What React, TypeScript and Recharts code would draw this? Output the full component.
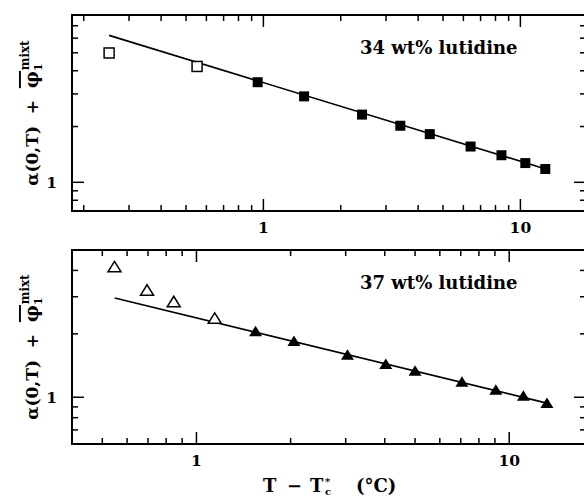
import { ComposedChart, Scatter, XAxis, YAxis, ReferenceArea, Customized } from "recharts";

// 34 wt% lutidine (upper panel)
const open34X = [0.251, 0.552];
const open34Y = [4.99, 4.22];
const fill34X = [0.95, 1.44, 2.42, 3.41, 4.44, 6.4, 8.44, 10.45, 12.5];
const fill34Y = [3.47, 2.91, 2.32, 2.02, 1.82, 1.56, 1.4, 1.27, 1.18];
const fit34X = [0.251, 12.8];
const fit34Y = [6.21, 1.17];

// 37 wt% lutidine (lower panel)
const open37X = [0.547, 0.695, 0.846, 1.144];
const open37Y = [4.16, 3.22, 2.84, 2.37];
const fill37X = [1.545, 2.05, 3.04, 4.03, 5.0, 7.06, 9.06, 11.1, 13.2];
const fill37Y = [2.06, 1.85, 1.59, 1.44, 1.335, 1.185, 1.086, 1.017, 0.94];
const fit37X = [0.548, 13.4];
const fit37Y = [2.96, 0.933];

// axes
const xTicks34 = [0.2, 0.3, 0.4, 0.5, 0.6, 0.7, 0.8, 0.9, 1, 2, 3, 4, 5, 6, 7, 8, 9, 10];
const xTicks37 = [0.5, 0.6, 0.7, 0.8, 0.9, 1, 2, 3, 4, 5, 6, 7, 8, 9, 10];
const yTicks34 = [0.8, 0.9, 1, 2, 3, 4, 5, 6, 7];
const yTicks37 = [0.7, 0.8, 0.9, 1, 2, 3, 4];
const xLabeled = [1, 10];
const yLabeled = [1];

const pts = (xs: number[], ys: number[]) => xs.map((x, i) => ({ x, y: ys[i] }));

const FONT = "'DejaVu Serif', serif";
const PLOT_W = 514;

const xTick = (plotH: number) => (props: any) => {
  const { x, y, payload } = props;
  const major = xLabeled.includes(payload.value);
  const len = major ? 12 : 6;
  return (
    <g>
      <line x1={x} x2={x} y1={y} y2={y - len} stroke="#000" strokeWidth={1.5} />
      <line x1={x} x2={x} y1={y - plotH} y2={y - plotH + len} stroke="#000" strokeWidth={1.5} />
      {major && (
        <text x={x} y={y + 22} textAnchor="middle" fontFamily={FONT} fontWeight="bold" fontSize={15.5} fill="#000">
          {payload.value}
        </text>
      )}
    </g>
  );
};

const yTick = (props: any) => {
  const { x, y, payload } = props;
  const major = yLabeled.includes(payload.value);
  const len = major ? 12 : 6;
  return (
    <g>
      <line x1={x} x2={x + len} y1={y} y2={y} stroke="#000" strokeWidth={1.5} />
      <line x1={x + PLOT_W} x2={x + PLOT_W - len} y1={y} y2={y} stroke="#000" strokeWidth={1.5} />
      {major && (
        <text x={x - 15} y={y + 6} textAnchor="end" fontFamily={FONT} fontWeight="bold" fontSize={15.5} fill="#000">
          {payload.value}
        </text>
      )}
    </g>
  );
};

const openSquare = (p: any) => (
  <rect x={p.cx - 5} y={p.cy - 5} width={10} height={10} fill="#fff" stroke="#000" strokeWidth={1.5} />
);
const fillSquare = (p: any) => <rect x={p.cx - 5} y={p.cy - 5} width={10} height={10} fill="#000" />;
const triPath = (cx: number, cy: number) => `M${cx - 6.5},${cy + 5}L${cx + 6.5},${cy + 5}L${cx},${cy - 5.5}Z`;
const openTri = (p: any) => (
  <path d={triPath(p.cx, p.cy)} fill="#fff" stroke="#000" strokeWidth={1.5} strokeLinejoin="miter" />
);
const fillTri = (p: any) => <path d={triPath(p.cx, p.cy)} fill="#000" />;
const noDot = () => <g />;

const YTitle = ({ cy }: { cy: number }) => (
  <text
    transform={`translate(38, ${cy}) rotate(-90)`}
    textAnchor="middle"
    fontFamily={FONT}
    fontWeight="bold"
    fontSize={17}
    fill="#000"
    style={{ whiteSpace: "pre" }}
  >
    {"α(0,T)  +  "}
    <tspan fontSize={19} style={{ textDecoration: "overline" }}>φ</tspan>
    <tspan dy={4} fontSize={11}>1</tspan>
    <tspan dx={-7} dy={-13} fontSize={12}>mixt</tspan>
  </text>
);

const Note = ({ x, y, text }: { x: number; y: number; text: string }) => (
  <text x={x} y={y} fontFamily={FONT} fontWeight="bold" fontSize={18} fill="#000" style={{ whiteSpace: "pre" }}>
    {text}
  </text>
);

const Panel = (props: {
  top: number;
  height: number;
  mTop: number;
  mBottom: number;
  xDom: [number, number];
  yDom: [number, number];
  xTicks: number[];
  yTicks: number[];
  open: { x: number; y: number }[];
  filled: { x: number; y: number }[];
  fit: { x: number; y: number }[];
  openShape: any;
  fillShape: any;
  note: string;
  noteY: number;
  extra?: any;
}) => {
  const plotH = props.height - props.mTop - props.mBottom;
  return (
    <div style={{ position: "absolute", left: 0, top: props.top }}>
      <ComposedChart
        width={600}
        height={props.height}
        margin={{ top: props.mTop, right: 14, bottom: props.mBottom - 1, left: 71 }}
      >
        <XAxis
          dataKey="x"
          type="number"
          scale="log"
          domain={props.xDom}
          allowDataOverflow
          ticks={props.xTicks}
          interval={0}
          height={1}
          tickSize={0}
          tickMargin={0}
          axisLine={false}
          tickLine={false}
          tick={xTick(plotH)}
        />
        <YAxis
          dataKey="y"
          type="number"
          scale="log"
          domain={props.yDom}
          allowDataOverflow
          ticks={props.yTicks}
          interval={0}
          width={1}
          tickSize={0}
          tickMargin={0}
          axisLine={false}
          tickLine={false}
          tick={yTick}
        />
        <ReferenceArea
          x1={props.xDom[0]}
          x2={props.xDom[1]}
          y1={props.yDom[0]}
          y2={props.yDom[1]}
          fill="none"
          fillOpacity={0}
          stroke="#000"
          strokeWidth={2}
          ifOverflow="visible"
        />
        <Scatter
          data={props.fit}
          line={{ stroke: "#000", strokeWidth: 1.6 }}
          lineType="joint"
          shape={noDot}
          isAnimationActive={false}
        />
        <Scatter data={props.open} shape={props.openShape} isAnimationActive={false} />
        <Scatter data={props.filled} shape={props.fillShape} isAnimationActive={false} />
        <Customized component={<Note x={360} y={props.noteY} text={props.note} />} />
        <Customized component={<YTitle cy={props.mTop + plotH / 2} />} />
        {props.extra}
      </ComposedChart>
    </div>
  );
};

const XTitle = () => (
  <text y={252} fontFamily={FONT} fontWeight="bold" fontSize={18} fill="#000">
    <tspan x={263}>T</tspan>
    <tspan x={287}>−</tspan>
    <tspan x={310}>T</tspan>
    <tspan x={325} dy={-7} fontSize={10}>*</tspan>
    <tspan x={325} dy={10} fontSize={10}>c</tspan>
    <tspan x={356} dy={-3}>(°C)</tspan>
  </text>
);

export default function App() {
  return (
    <div
      style={{
        position: "fixed",
        left: 0,
        top: 0,
        width: 584,
        height: 497,
        overflow: "hidden",
        background: "#fff",
      }}
    >
      <Panel
        top={0}
        height={240}
        mTop={15}
        mBottom={29}
        xDom={[0.18, 18]}
        yDom={[0.7, 8]}
        xTicks={xTicks34}
        yTicks={yTicks34}
        open={pts(open34X, open34Y)}
        filled={pts(fill34X, fill34Y)}
        fit={pts(fit34X, fit34Y)}
        openShape={openSquare}
        fillShape={fillSquare}
        note="34 wt% lutidine"
        noteY={54}
      />
      <Panel
        top={240}
        height={257}
        mTop={10}
        mBottom={53}
        xDom={[0.4, 17.6]}
        yDom={[0.6, 5]}
        xTicks={xTicks37}
        yTicks={yTicks37}
        open={pts(open37X, open37Y)}
        filled={pts(fill37X, fill37Y)}
        fit={pts(fit37X, fit37Y)}
        openShape={openTri}
        fillShape={fillTri}
        note="37 wt% lutidine"
        noteY={49}
        extra={<Customized component={<XTitle />} />}
      />
    </div>
  );
}
